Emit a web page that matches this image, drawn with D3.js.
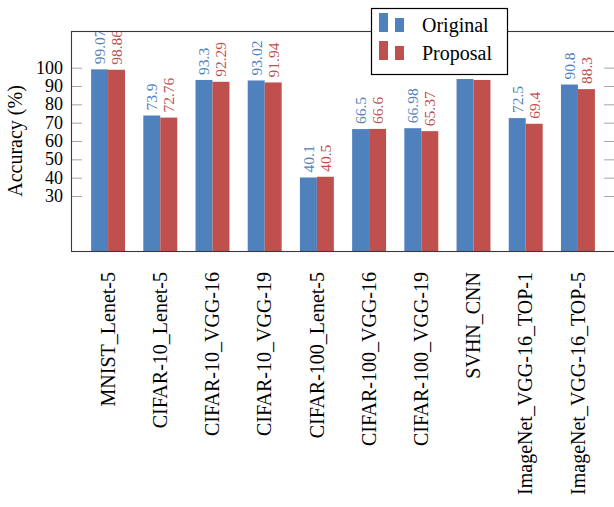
<!DOCTYPE html>
<html>
<head>
<meta charset="utf-8">
<script src="https://cdn.jsdelivr.net/npm/d3@7"></script>
<style>
  body { margin: 0; background: #fff; }
  svg { display: block; font-family: "Liberation Serif", "Times New Roman", serif; }
</style>
</head>
<body>
<div class="chart"></div>
<script>
// Data
const categories = [
  "MNIST_Lenet-5", "CIFAR-10_Lenet-5", "CIFAR-10_VGG-16", "CIFAR-10_VGG-19",
  "CIFAR-100_Lenet-5", "CIFAR-100_VGG-16", "CIFAR-100_VGG-19", "SVHN_CNN",
  "ImageNet_VGG-16_TOP-1", "ImageNet_VGG-16_TOP-5"
];
const originalValues = [99.07, 73.9, 93.3, 93.02, 40.1, 66.5, 66.98, 93.8, 72.5, 90.8];
const proposalValues = [98.86, 72.76, 92.29, 91.94, 40.5, 66.6, 65.37, 93.3, 69.4, 88.3];
// SVHN has no value labels in the original (hidden under legend)
const originalLabels = ["99.07", "73.9", "93.3", "93.02", "40.1", "66.5", "66.98", "", "72.5", "90.8"];
const proposalLabels = ["98.86", "72.76", "92.29", "91.94", "40.5", "66.6", "65.37", "", "69.4", "88.3"];
const yTicks = [30, 40, 50, 60, 70, 80, 90, 100];
const seriesNames = ["Original", "Proposal"];

const colors = { Original: "#4f81bd", Proposal: "#c0504d" };

const width = 614, height = 507;
const plot = { left: 71, right: 615, top: 31, bottom: 251 };

const svg = d3.select(".chart")
  .append("svg")
  .attr("width", width)
  .attr("height", height);

const x = d3.scaleBand()
  .domain(categories)
  .range([plot.left, plot.right])
  .paddingInner(0.35)
  .paddingOuter(0.385);

const xSub = d3.scaleBand()
  .domain(seriesNames)
  .range([0, x.bandwidth()]);

const y = d3.scaleLinear()
  .domain([0, 120])
  .range([plot.bottom, plot.top]);

const rows = categories.map((c, i) => ({
  category: c,
  values: [
    { series: "Original", value: originalValues[i], label: originalLabels[i] },
    { series: "Proposal", value: proposalValues[i], label: proposalLabels[i] }
  ]
}));

// clip for everything inside the axis box
svg.append("clipPath").attr("id", "plotClip")
  .append("rect")
  .attr("x", plot.left).attr("y", plot.top)
  .attr("width", plot.right - plot.left).attr("height", plot.bottom - plot.top);

// ticks (inside, both sides)
const leftAxis = d3.axisRight(y).tickValues(yTicks).tickSize(11).tickFormat("");
const rightAxis = d3.axisLeft(y).tickValues(yTicks).tickSize(11).tickFormat("");
svg.append("g").attr("transform", `translate(${plot.left},0)`).call(leftAxis)
  .call(g => g.select(".domain").remove())
  .call(g => g.selectAll("line").attr("stroke", "#a6a6a6"));
svg.append("g").attr("transform", `translate(${plot.right},0)`).call(rightAxis)
  .call(g => g.select(".domain").remove())
  .call(g => g.selectAll("line").attr("stroke", "#a6a6a6"));

// tick labels
svg.append("g")
  .selectAll("text")
  .data(yTicks)
  .join("text")
  .attr("x", plot.left - 8)
  .attr("y", d => y(d))
  .attr("dy", "0.34em")
  .attr("text-anchor", "end")
  .style("font-size", "18px")
  .text(d => d);

// bars
const groups = svg.append("g")
  .attr("clip-path", "url(#plotClip)")
  .selectAll("g")
  .data(rows)
  .join("g")
  .attr("transform", d => `translate(${x(d.category)},0)`);

groups.selectAll("rect")
  .data(d => d.values)
  .join("rect")
  .attr("x", d => xSub(d.series))
  .attr("y", d => y(d.value))
  .attr("width", xSub.bandwidth())
  .attr("height", d => y(0) - y(d.value))
  .attr("fill", d => colors[d.series]);

// value labels, rotated
groups.selectAll("text")
  .data(d => d.values.filter(v => v.label))
  .join("text")
  .attr("transform", d => `translate(${xSub(d.series) + xSub.bandwidth() / 2},${y(d.value) - 5}) rotate(-90)`)
  .attr("dy", "0.35em")
  .attr("text-anchor", "start")
  .attr("fill", d => colors[d.series])
  .style("font-size", "15.5px")
  .text(d => d.label);

// frame
svg.append("rect")
  .attr("x", plot.left + 0.5)
  .attr("y", plot.top + 0.5)
  .attr("width", plot.right - plot.left)
  .attr("height", plot.bottom - plot.top)
  .attr("fill", "none")
  .attr("stroke", "#3a3a3a")
  .attr("stroke-width", 1.1);

// category labels
svg.append("g")
  .selectAll("text")
  .data(categories)
  .join("text")
  .attr("transform", d => `translate(${x(d) + x.bandwidth() / 2},272) rotate(-90)`)
  .attr("dy", "0.33em")
  .attr("text-anchor", "end")
  .style("font-size", "20px")
  .text(d => d);

// y axis title
svg.append("text")
  .attr("transform", `translate(21.5,${(plot.top + plot.bottom) / 2}) rotate(-90)`)
  .attr("text-anchor", "middle")
  .style("font-size", "20px")
  .text("Accuracy (%)");

// legend
const legend = svg.append("g").attr("transform", "translate(371,8)");
legend.append("rect")
  .attr("x", 0.5).attr("y", 0.5)
  .attr("width", 136).attr("height", 66)
  .attr("fill", "#fff")
  .attr("stroke", "#000")
  .attr("stroke-width", 1.2);

const legendRows = legend.selectAll("g.item")
  .data(seriesNames)
  .join("g")
  .attr("class", "item")
  .attr("transform", (d, i) => `translate(0,${i * 28})`);

legendRows.append("rect")
  .attr("x", 8).attr("y", 5)
  .attr("width", 9).attr("height", 19)
  .attr("fill", d => colors[d]);
legendRows.append("rect")
  .attr("x", 24).attr("y", 10)
  .attr("width", 9).attr("height", 14)
  .attr("fill", d => colors[d]);
legendRows.append("text")
  .attr("x", 51).attr("y", 24)
  .style("font-size", "20px")
  .text(d => d);
</script>
</body>
</html>
